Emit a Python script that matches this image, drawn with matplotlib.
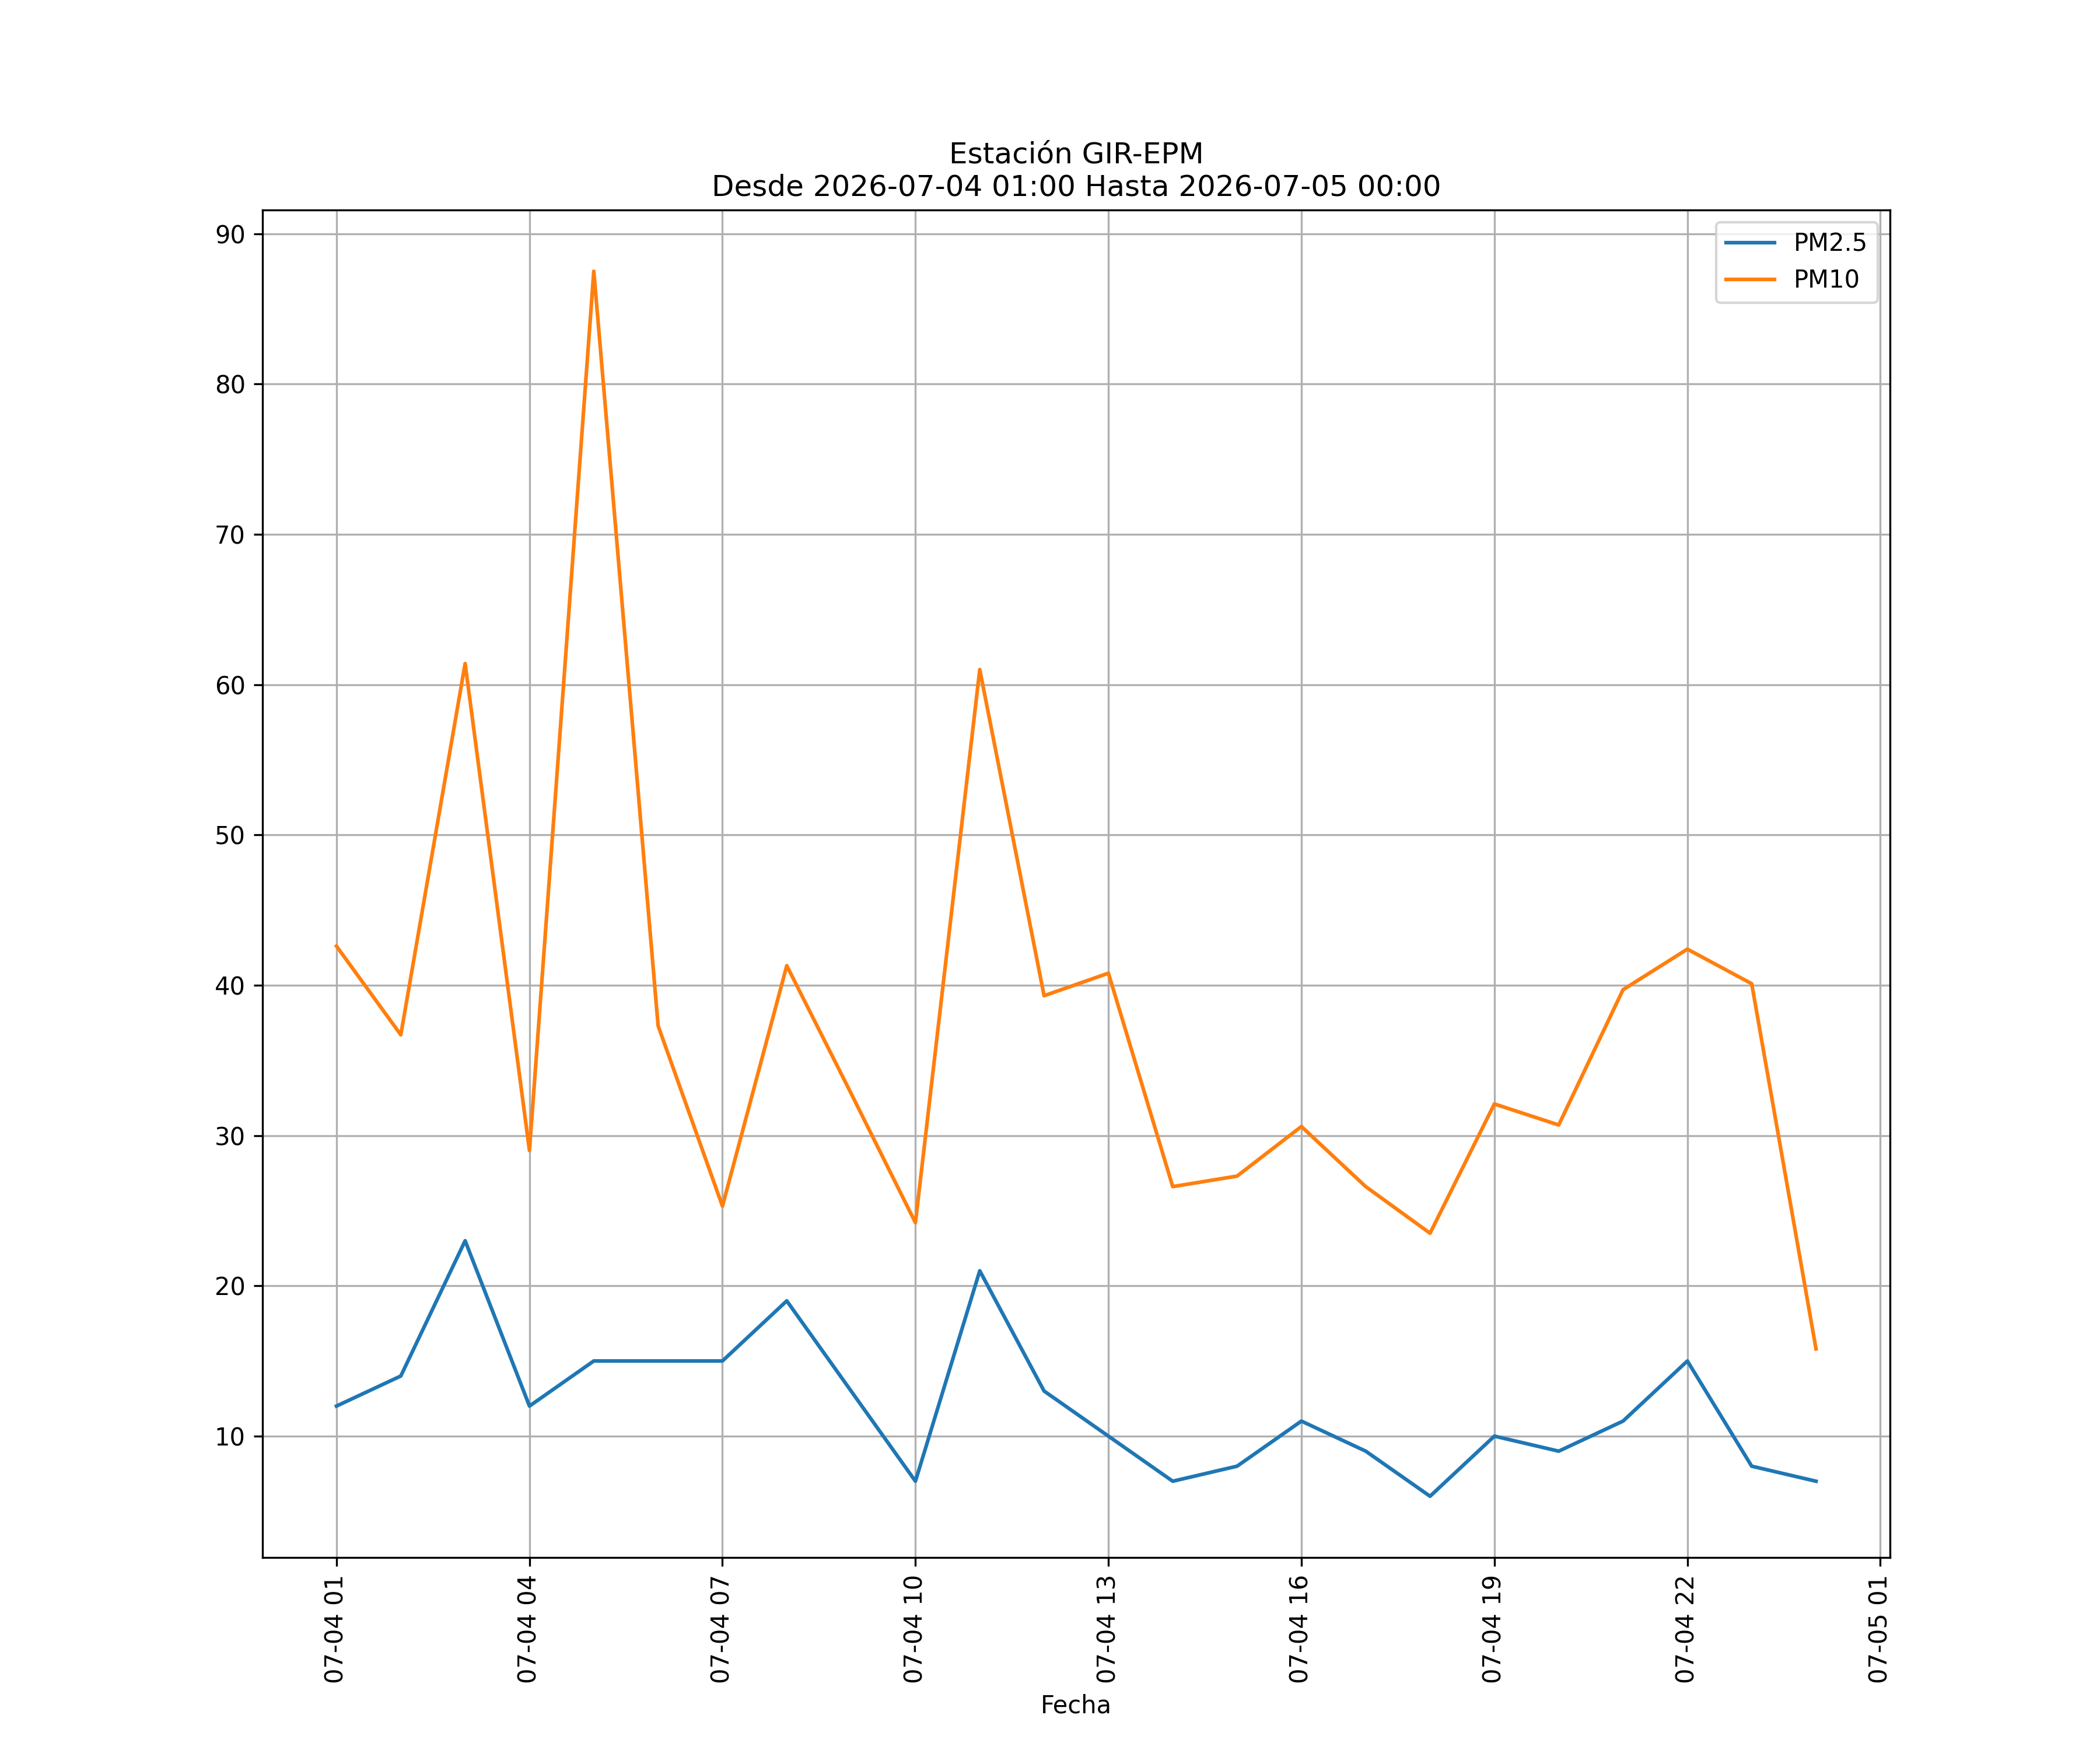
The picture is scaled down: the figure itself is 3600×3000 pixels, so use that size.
import pandas as pd
import matplotlib
matplotlib.use("Agg")
import matplotlib.pyplot as plt
import matplotlib.dates as mdates

# hourly readings, estación GIR-EPM
fechas = pd.date_range("2026-07-04 01:00", "2026-07-05 00:00", freq="h")

pm25 = [12, 14, 23, 12, 15, 15, 15, 19, 13, 7, 21, 13,
        10, 7, 8, 11, 9, 6, 10, 9, 11, 15, 8, 7]

pm10 = [42.6, 36.7, 61.4, 29.0, 87.5, 37.3, 25.3, 41.3, 32.8, 24.2, 61.0, 39.3,
        40.8, 26.6, 27.3, 30.6, 26.6, 23.5, 32.1, 30.7, 39.7, 42.4, 40.1, 15.8]

fig, ax = plt.subplots(figsize=(12, 10), dpi=300)

ax.plot(fechas, pm25, label="PM2.5")
ax.plot(fechas, pm10, label="PM10")

ax.xaxis.set_major_locator(mdates.HourLocator(byhour=range(1, 24, 3)))
ax.xaxis.set_major_formatter(mdates.DateFormatter("%m-%d %H"))
plt.setp(ax.get_xticklabels(), rotation=90)

ax.set_title("Estación GIR-EPM\nDesde 2026-07-04 01:00 Hasta 2026-07-05 00:00")
ax.set_xlabel("Fecha")
ax.grid(True)
ax.legend(loc="upper right")

plt.savefig("out.png", dpi=300)
